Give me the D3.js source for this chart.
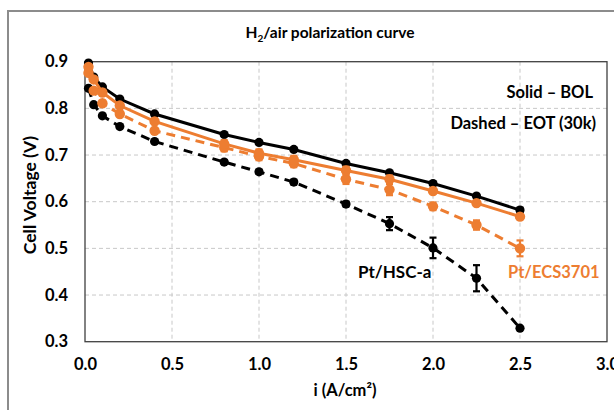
<!DOCTYPE html>
<html><head><meta charset="utf-8">
<script src="https://cdn.jsdelivr.net/npm/d3@7"></script>
<style>body{margin:0;background:#fff}svg{display:block}text{font-family:Lato,"Open Sans",sans-serif;font-weight:bold}</style>
</head><body><svg id="c" width="614" height="410"></svg>
<script>
const currents = [0.02,0.05,0.1,0.2,0.4,0.8,1.0,1.2,1.5,1.75,2.0,2.25,2.5];
const hscBOL = [0.897,0.867,0.846,0.820,0.788,0.744,0.727,0.712,0.682,0.662,0.639,0.612,0.582];
const hscBOLerr = [0,0,0,0,0,0.003,0.003,0.003,0.003,0.003,0.003,0.004,0.005];
const hscEOT = [0.843,0.808,0.784,0.761,0.729,0.685,0.664,0.642,0.595,0.553,0.501,0.436,0.329];
const hscEOTerr = [0,0,0,0,0,0.004,0.004,0.005,0.005,0.014,0.022,0.028,0];
const ecsBOL = [0.889,0.862,0.834,0.806,0.772,0.724,0.704,0.690,0.667,0.648,0.623,0.597,0.568];
const ecsBOLerr = [0,0,0,0,0.006,0.008,0.008,0.008,0.008,0.008,0.004,0.004,0.004];
const ecsEOT = [0.876,0.838,0.811,0.788,0.752,0.716,0.697,0.682,0.648,0.626,0.590,0.550,0.500];
const ecsEOTerr = [0,0,0,0,0.006,0.008,0.008,0.008,0.010,0.012,0.008,0.010,0.017];
const xTicks = [0,0.5,1.0,1.5,2.0,2.5,3.0];
const yTicks = [0.3,0.4,0.5,0.6,0.7,0.8,0.9];
const orange = "#ED7D31";

const svg = d3.select("#c");
const x = d3.scaleLinear().domain([0,3]).range([85,607]);
const y = d3.scaleLinear().domain([0.3,0.9]).range([341.7,61.7]);

// outer frame
svg.append("rect").attr("x",8).attr("y",11).attr("width",640).attr("height",420)
  .attr("fill","none").attr("stroke","#8c8c8c").attr("stroke-width",2);

// gridlines
const g = svg.append("g");
g.selectAll(".vg").data(xTicks.slice(1,-1)).join("line")
  .attr("x1",d=>x(d)).attr("x2",d=>x(d)).attr("y1",y(0.9)).attr("y2",y(0.3))
  .attr("stroke","#c8c8c8").attr("stroke-width",1).attr("stroke-dasharray","4,3");
g.selectAll(".hg").data(yTicks.slice(1,-1)).join("line")
  .attr("x1",x(0)).attr("x2",x(3)).attr("y1",d=>y(d)).attr("y2",d=>y(d))
  .attr("stroke","#c8c8c8").attr("stroke-width",1).attr("stroke-dasharray","4,3");
svg.append("rect").attr("x",x(0)).attr("y",y(0.9)).attr("width",x(3)-x(0)).attr("height",y(0.3)-y(0.9))
  .attr("fill","none").attr("stroke","#404040").attr("stroke-width",1.3);

// axes
const xAxis = svg.append("g").attr("transform",`translate(0,${y(0.3)})`)
  .call(d3.axisBottom(x).tickValues(xTicks).tickFormat(d3.format(".1f")).tickSize(0).tickPadding(17));
const yAxis = svg.append("g").attr("transform",`translate(${x(0)},0)`)
  .call(d3.axisLeft(y).tickValues(yTicks).tickFormat(d3.format(".1f")).tickSize(0).tickPadding(17));
[xAxis,yAxis].forEach(a=>{a.select(".domain").remove();a.selectAll("text").attr("font-size",16.5).attr("fill","#000").style("font-family","Lato").style("font-weight","bold");});

// series
const series = [
  {v:hscBOL,e:hscBOLerr,c:"#000",dash:null,r:4.6},
  {v:hscEOT,e:hscEOTerr,c:"#000",dash:"9,6",r:4.6},
  {v:ecsEOT,e:ecsEOTerr,c:orange,dash:"9,6",r:5.2},
  {v:ecsBOL,e:ecsBOLerr,c:orange,dash:null,r:5.2}
];
const line = d3.line().x(d=>x(d[0])).y(d=>y(d[1]));
series.forEach(s=>{
  const pts = currents.map((c,i)=>[c,s.v[i],s.e[i]]);
  const gg = svg.append("g");
  gg.append("path").datum(pts).attr("d",line).attr("fill","none").attr("stroke",s.c)
    .attr("stroke-width",3).attr("stroke-dasharray",s.dash);
  const eb = gg.selectAll(".eb").data(pts.filter(p=>p[2]>0)).join("g");
  eb.append("line").attr("x1",d=>x(d[0])).attr("x2",d=>x(d[0])).attr("y1",d=>y(d[1]-d[2])).attr("y2",d=>y(d[1]+d[2])).attr("stroke",s.c).attr("stroke-width",2.2);
  eb.append("line").attr("x1",d=>x(d[0])-3.5).attr("x2",d=>x(d[0])+3.5).attr("y1",d=>y(d[1]-d[2])).attr("y2",d=>y(d[1]-d[2])).attr("stroke",s.c).attr("stroke-width",2.2);
  eb.append("line").attr("x1",d=>x(d[0])-3.5).attr("x2",d=>x(d[0])+3.5).attr("y1",d=>y(d[1]+d[2])).attr("y2",d=>y(d[1]+d[2])).attr("stroke",s.c).attr("stroke-width",2.2);
  gg.selectAll("circle").data(pts).join("circle").attr("cx",d=>x(d[0])).attr("cy",d=>y(d[1])).attr("r",s.r).attr("fill",s.c);
});

// title
const t = svg.append("text").attr("x",330).attr("y",38).attr("text-anchor","middle").attr("font-size",15.5).attr("fill","#000");
t.append("tspan").text("H");
t.append("tspan").attr("font-size",10).attr("dy",4).text("2");
t.append("tspan").attr("dy",-4).text("/air polarization curve");

// axis titles
svg.append("text").attr("transform","translate(36,195) rotate(-90)").attr("text-anchor","middle").attr("font-size",17.5).attr("fill","#000").text("Cell Voltage (V)");
svg.append("text").attr("x",345).attr("y",396).attr("text-anchor","middle").attr("font-size",16.5).attr("fill","#000").text("i (A/cm²)");

// annotations
svg.append("text").attr("x",593).attr("y",98).attr("text-anchor","end").attr("font-size",16.5).attr("fill","#000").text("Solid – BOL");
svg.append("text").attr("x",596).attr("y",129).attr("text-anchor","end").attr("font-size",16.5).attr("fill","#000").text("Dashed – EOT (30k)");
svg.append("text").attr("x",358).attr("y",278).attr("font-size",17).attr("fill","#000").text("Pt/HSC-a");
svg.append("text").attr("x",508).attr("y",278).attr("font-size",16.5).attr("fill",orange).text("Pt/ECS3701");
</script></body></html>
